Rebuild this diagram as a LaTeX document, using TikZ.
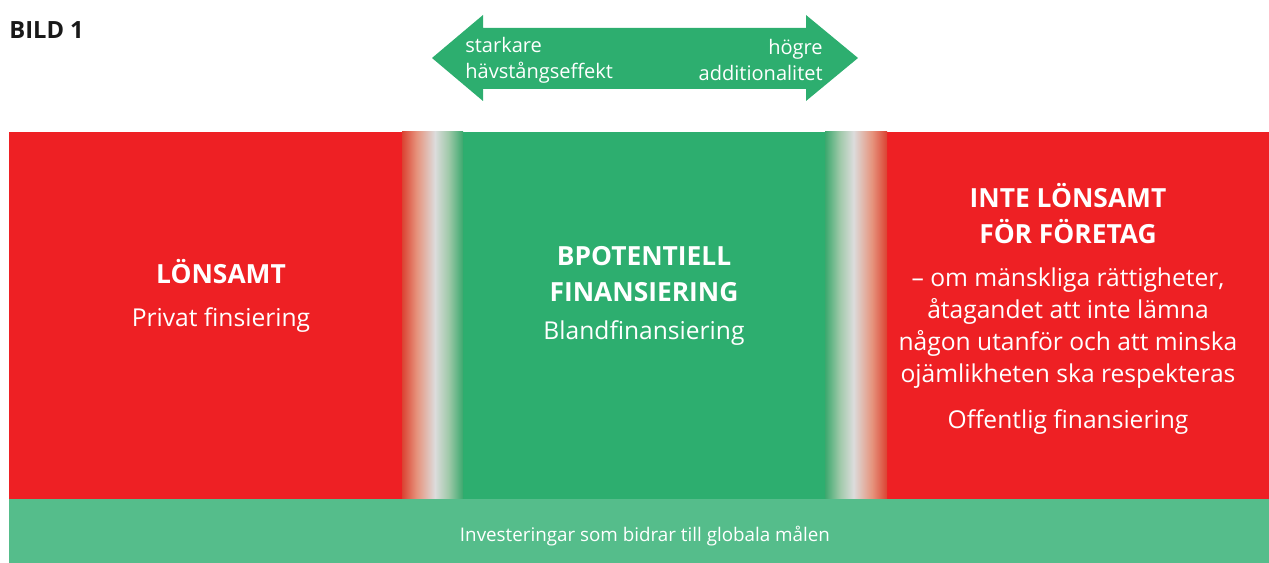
\documentclass[tikz,border=0pt]{standalone}
\usepackage{fontspec}
\setmainfont{Open Sans}
\usetikzlibrary{positioning}

\definecolor{boxred}{HTML}{EE2024}
\definecolor{boxgreen}{HTML}{2DAE6F}
\definecolor{bandgreen}{HTML}{55BD8B}
\definecolor{midgray}{HTML}{DCDCDC}
\definecolor{edgered}{HTML}{DB4232}
\definecolor{salmon}{HTML}{E6937C}
\definecolor{palegreen}{HTML}{A0C9AA}
\definecolor{edgegreen}{HTML}{3CA86E}

% fades between the coloured boxes (path is mapped onto 25bp..75bp)
\pgfdeclarehorizontalshading{redtogreen}{100bp}{color(0bp)=(edgered); color(25bp)=(edgered);
  color(37bp)=(salmon); color(52bp)=(midgray); color(63bp)=(palegreen);
  color(75bp)=(edgegreen); color(100bp)=(edgegreen)}
\pgfdeclarehorizontalshading{greentored}{100bp}{color(0bp)=(edgegreen); color(25bp)=(edgegreen);
  color(37bp)=(palegreen); color(48bp)=(midgray); color(63bp)=(salmon);
  color(75bp)=(edgered); color(100bp)=(edgered)}

\tikzset{
  head/.style={text=white, font=\fontsize{15}{20.5}\selectfont\bfseries, align=center},
  body/.style={text=white, font=\fontsize{14}{18.2}\selectfont, align=center},
  tag/.style={text=white, font=\fontsize{11.4}{14.7}\selectfont},
}

\begin{document}
\begin{tikzpicture}[x=0.02cm, y=-0.02cm]
  \useasboundingbox (0,0) rectangle (1269,563);

  % Title
  \node[anchor=west, text=black!90, font=\fontsize{13.5}{16}\selectfont\bfseries, inner sep=0pt] (title) at (9,30) {BILD 1};

  % Double arrow on top
  \fill[boxgreen] (432,58) -- (483,15) -- (483,28) -- (806,28) -- (806,15)
    -- (858,58) -- (806,101) -- (806,89) -- (483,89) -- (483,101) -- cycle;
  \node[tag, anchor=west, align=left, inner sep=0pt] (lever) at (465,60) {starkare\\hävstångseffekt};
  \node[tag, anchor=east, align=right, inner sep=0pt] (addit) at (823,60) {högre\\additionalitet};

  % Three boxes
  \fill[boxred] (9,132) rectangle (403,499);
  \fill[boxgreen] (462,132) rectangle (826,499);
  \fill[boxred] (886,132) rectangle (1269,499);

  % Soft transitions between the boxes
  \shade[shading=redtogreen] (402,132) rectangle (463,499);
  \shade[shading=greentored] (825,132) rectangle (887,499);

  % Bottom band
  \fill[bandgreen] (9,499) rectangle (1269,563);
  \node[text=white, font=\fontsize{10.7}{13}\selectfont] (goals) at (645,536) {Investeringar som bidrar till globala målen};

  % Left box text
  \node[head] (profit) at (221,272) {LÖNSAMT};
  \node[body] (private) at (221,320) {Privat finsiering};

  % Middle box text
  \node[head] (potential) at (644,274) {BPOTENTIELL\\FINANSIERING};
  \node[body] (blend) at (644,333) {Blandfinansiering};

  % Right box text
  \node[head] (noprofit) at (1068,214) {INTE LÖNSAMT\\FÖR FÖRETAG};
  \node[body] (rights) at (1068,328) {– om mänskliga rättigheter,\\åtagandet att inte lämna\\någon utanför och att minska\\ojämlikheten ska respekteras};
  \node[body] (public) at (1068,422) {Offentlig finansiering};
\end{tikzpicture}
\end{document}
